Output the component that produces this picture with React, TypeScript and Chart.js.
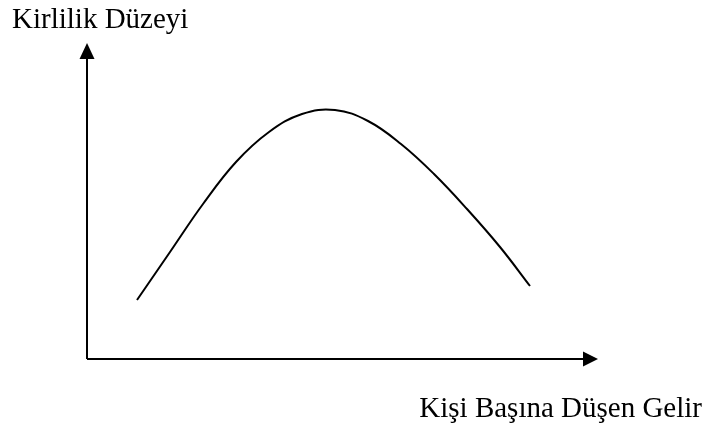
import React, { useEffect, useRef } from "react";
import { Chart, registerables } from "chart.js";

Chart.register(...registerables);

// Kişi başına düşen gelir (x) and kirlilik düzeyi (y)
const incomeValues = [50, 83, 116, 149, 182, 215, 248, 281, 314, 347, 380, 413, 443];
const pollutionValues = [59, 107, 155, 197, 227, 245, 249, 238, 215, 185, 150, 112, 73];
const xAxisLabel = "Kişi Başına Düşen Gelir";
const yAxisLabel = "Kirlilik Düzeyi";
const xMax = 511;
const yMax = 316;

const axesPlugin = {
  id: "arrowAxes",
  afterDraw(chart: any) {
    const { ctx, scales } = chart;
    const x0 = scales.x.getPixelForValue(0);
    const x1 = scales.x.getPixelForValue(xMax);
    const y0 = scales.y.getPixelForValue(0);
    const y1 = scales.y.getPixelForValue(yMax);
    ctx.save();
    ctx.strokeStyle = "#000";
    ctx.fillStyle = "#000";
    ctx.lineWidth = 2;
    ctx.beginPath();
    ctx.moveTo(x0, y0);
    ctx.lineTo(x0, y1 + 14);
    ctx.moveTo(x0, y0);
    ctx.lineTo(x1 - 14, y0);
    ctx.stroke();
    // vertical arrow head
    ctx.beginPath();
    ctx.moveTo(x0, y1);
    ctx.lineTo(x0 - 7.5, y1 + 16);
    ctx.lineTo(x0 + 7.5, y1 + 16);
    ctx.closePath();
    ctx.fill();
    // horizontal arrow head
    ctx.beginPath();
    ctx.moveTo(x1, y0);
    ctx.lineTo(x1 - 15, y0 - 7.5);
    ctx.lineTo(x1 - 15, y0 + 7.5);
    ctx.closePath();
    ctx.fill();
    // labels
    ctx.font = '29px "Liberation Serif", "Times New Roman", serif';
    ctx.textBaseline = "alphabetic";
    ctx.textAlign = "left";
    ctx.fillText(yAxisLabel, 12, 28);
    ctx.textAlign = "right";
    ctx.fillText(xAxisLabel, 702, 417);
    ctx.restore();
  },
};

export default function App() {
  const ref = useRef<HTMLCanvasElement | null>(null);
  useEffect(() => {
    if (!ref.current) return;
    const chart = new Chart(ref.current, {
      type: "line",
      data: {
        datasets: [
          {
            data: incomeValues.map((x, i) => ({ x, y: pollutionValues[i] })),
            borderColor: "#000",
            borderWidth: 2,
            pointRadius: 0,
            fill: false,
            tension: 0.4,
          },
        ],
      },
      options: {
        animation: false,
        responsive: false,
        layout: { padding: { left: 87, top: 43, right: 105, bottom: 69 } },
        plugins: { legend: { display: false }, tooltip: { enabled: false } },
        scales: {
          x: { type: "linear", min: 0, max: xMax, display: false },
          y: { type: "linear", min: 0, max: yMax, display: false },
        },
      },
      plugins: [axesPlugin],
    });
    return () => chart.destroy();
  }, []);
  return (
    <div style={{ position: "fixed", left: 0, top: 0, width: 703, height: 428, background: "#fff" }}>
      <canvas ref={ref} width={703} height={428} />
    </div>
  );
}
